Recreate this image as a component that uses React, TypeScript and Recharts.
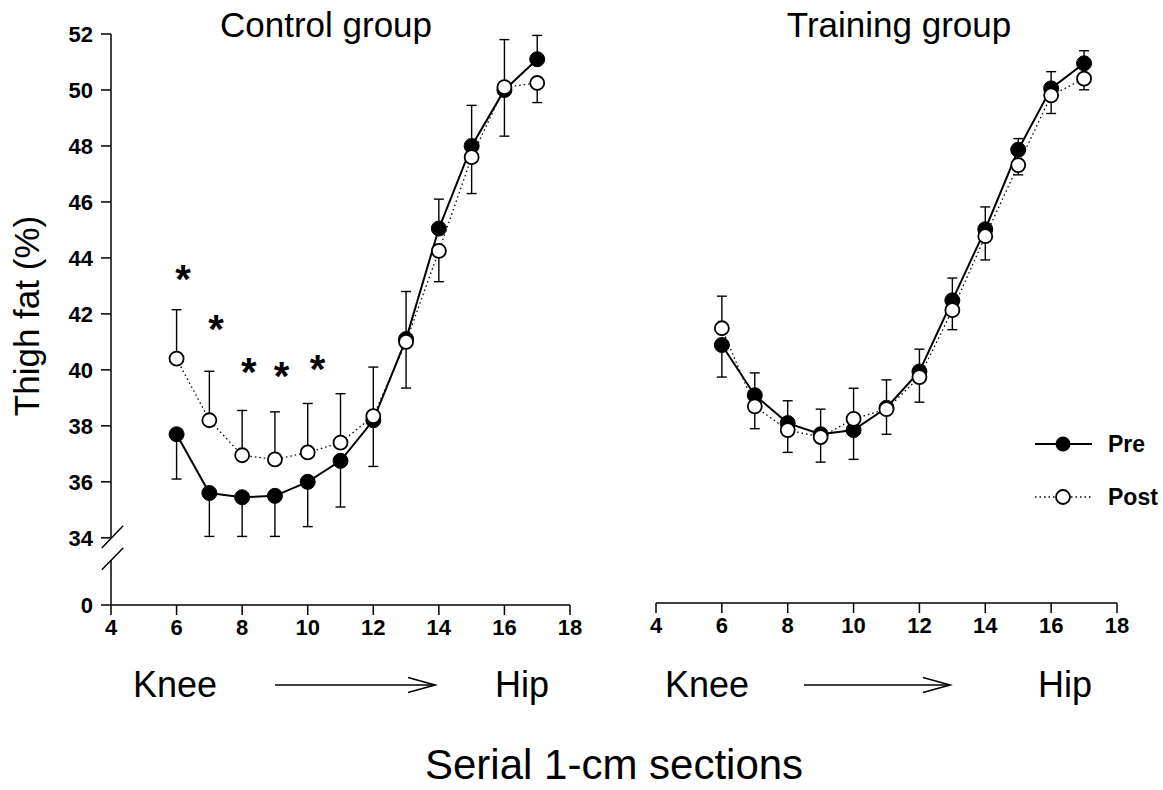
import React from "react";
import {
  ComposedChart,
  Line,
  ErrorBar,
  Scatter,
  XAxis,
  YAxis,
  ReferenceLine,
} from "recharts";

// section number (cm from knee)
const sections = [6, 7, 8, 9, 10, 11, 12, 13, 14, 15, 16, 17];

// control group, % fat; *End = where the error bar stops
const controlPre = [37.7, 35.6, 35.45, 35.5, 36.0, 36.75, 38.2, 41.1, 45.05, 48.0, 50.0, 51.1];
const controlPreEnd = [36.1, 34.05, 34.05, 34.05, 34.4, 35.1, 36.55, 42.8, 46.1, 49.45, 51.8, 51.95];
const controlPost = [40.4, 38.2, 36.95, 36.8, 37.05, 37.4, 38.35, 41.0, 44.25, 47.6, 50.1, 50.25];
const controlPostEnd = [42.15, 39.95, 38.55, 38.5, 38.8, 39.15, 40.1, 39.35, 43.15, 46.3, 48.35, 49.55];

// training group
const trainingPre = [40.85, 39.05, 38.05, 37.65, 37.8, 38.6, 39.9, 42.45, 45.0, 47.85, 50.05, 50.95];
const trainingPreEnd = [39.7, 39.85, 38.85, 38.55, 36.75, 39.6, 40.7, 43.25, 45.8, 48.25, 50.65, 51.4];
const trainingPost = [41.45, 38.65, 37.8, 37.55, 38.2, 38.55, 39.7, 42.1, 44.75, 47.3, 49.8, 50.4];
const trainingPostEnd = [42.6, 37.85, 37.0, 36.65, 39.3, 37.65, 38.8, 41.4, 43.9, 46.95, 49.15, 50.0];

// significance markers (control group)
const starX = [6.2, 7.2, 8.2, 9.2, 10.3];
const starY = [43.55, 41.75, 40.2, 40.05, 40.3];

const xTicks = [4, 6, 8, 10, 12, 14, 16, 18];
const yTicks = [31.6, 34, 36, 38, 40, 42, 44, 46, 48, 50, 52];
// the "0" tick sits below the axis break
const ZERO = 31.6;

const FONT = "'Liberation Sans', Arial, sans-serif";

const span = (v: number, end: number) => (end < v ? [v - end, 0] : [0, end - v]);

const buildRows = (pre: number[], preEnd: number[], post: number[], postEnd: number[]) =>
  sections.map((x, i) => ({
    x,
    pre: pre[i],
    preErr: span(pre[i], preEnd[i]),
    post: post[i],
    postErr: span(post[i], postEnd[i]),
  }));

const controlRows = buildRows(controlPre, controlPreEnd, controlPost, controlPostEnd);
const trainingRows = buildRows(trainingPre, trainingPreEnd, trainingPost, trainingPostEnd);
const stars = starX.map((x, i) => ({ x, y: starY[i] }));

function XTick({ x, y, payload }: any) {
  return (
    <text x={x} y={y} dy="0.72em" textAnchor="middle" fontSize={22} fontWeight={700} fontFamily={FONT} fill="#000">
      {payload.value}
    </text>
  );
}

function YTick({ x, y, payload }: any) {
  const v = payload.value < 33 ? "0" : String(payload.value);
  return (
    <text x={x} y={y} dy="0.36em" textAnchor="end" fontSize={22} fontWeight={700} fontFamily={FONT} fill="#000">
      {v}
    </text>
  );
}

function Star({ cx, cy }: any) {
  return (
    <text x={cx} y={cy + 22} textAnchor="middle" fontSize={40} fontWeight={700} fontFamily={FONT} fill="#000">
      *
    </text>
  );
}

function series() {
  return [
    <Line
      key="pre"
      dataKey="pre"
      stroke="#000"
      strokeWidth={2}
      dot={{ r: 7.5, fill: "#000", stroke: "#000", strokeWidth: 1 }}
      isAnimationActive={false}
    >
      <ErrorBar dataKey="preErr" direction="y" width={5} stroke="#000" strokeWidth={1.4} />
    </Line>,
    <Line
      key="post"
      dataKey="post"
      stroke="#000"
      strokeWidth={1.3}
      strokeDasharray="1.5 3"
      dot={{ r: 7, fill: "#fff", stroke: "#000", strokeWidth: 1.8, strokeDasharray: "0" }}
      isAnimationActive={false}
    >
      <ErrorBar dataKey="postErr" direction="y" width={5} stroke="#000" strokeWidth={1.4} />
    </Line>,
  ];
}

function xAxis() {
  return (
    <XAxis
      dataKey="x"
      type="number"
      domain={[4, 18]}
      ticks={xTicks}
      axisLine={{ stroke: "#000", strokeWidth: 1.5 }}
      tickLine={{ stroke: "#000", strokeWidth: 1.5 }}
      tickSize={10}
      tickMargin={4}
      tick={<XTick />}
      height={40}
    />
  );
}

function Arrow({ x1, x2, y }: { x1: number; x2: number; y: number }) {
  return (
    <g stroke="#000" strokeWidth={1.6} fill="none">
      <line x1={x1} y1={y} x2={x2} y2={y} />
      <polyline points={`${x2 - 27},${y - 7.5} ${x2},${y} ${x2 - 27},${y + 7.5}`} />
    </g>
  );
}

export default function App() {
  return (
    <div style={{ position: "absolute", left: 0, top: 0, width: 1163, height: 790, background: "#fff" }}>
      <div style={{ position: "absolute", left: 0, top: 0 }}>
        <ComposedChart
          width={600}
          height={680}
          data={controlRows}
          margin={{ top: 34, right: 30, bottom: 35, left: 41 }}
        >
          {xAxis()}
          <YAxis
            type="number"
            domain={[ZERO, 52]}
            ticks={yTicks}
            allowDataOverflow
            axisLine={false}
            tickLine={{ stroke: "#000", strokeWidth: 1.5 }}
            tickSize={10}
            tickMargin={8}
            tick={<YTick />}
            width={70}
          />
          <ReferenceLine segment={[{ x: 4, y: ZERO }, { x: 4, y: 33.2 }]} stroke="#000" strokeWidth={1.5} ifOverflow="visible" />
          <ReferenceLine segment={[{ x: 4, y: 34.0 }, { x: 4, y: 52 }]} stroke="#000" strokeWidth={1.5} ifOverflow="visible" />
          <ReferenceLine segment={[{ x: 3.72, y: 33.64 }, { x: 4.37, y: 34.43 }]} stroke="#000" strokeWidth={1.5} ifOverflow="visible" />
          <ReferenceLine segment={[{ x: 3.72, y: 32.86 }, { x: 4.37, y: 33.64 }]} stroke="#000" strokeWidth={1.5} ifOverflow="visible" />
          {series()}
          <Scatter data={stars} dataKey="y" shape={<Star />} isAnimationActive={false} />
        </ComposedChart>
      </div>
      <div style={{ position: "absolute", left: 600, top: 0 }}>
        <ComposedChart
          width={563}
          height={680}
          data={trainingRows}
          margin={{ top: 34, right: 46, bottom: 37, left: 56 }}
        >
          {xAxis()}
          <YAxis type="number" domain={[ZERO, 52]} allowDataOverflow hide />
          {series()}
        </ComposedChart>
      </div>
      <svg
        width={1163}
        height={790}
        style={{ position: "absolute", left: 0, top: 0, pointerEvents: "none" }}
        fontFamily={FONT}
      >
        <text x={326} y={37} textAnchor="middle" fontSize={35}>Control group</text>
        <text x={899} y={37} textAnchor="middle" fontSize={35}>Training group</text>
        <text x={0} y={0} transform="translate(39,316) rotate(-90)" textAnchor="middle" fontSize={35}>
          Thigh fat (%)
        </text>

        <text x={133} y={697} fontSize={36}>Knee</text>
        <Arrow x1={275} x2={435} y={685} />
        <text x={495} y={697} fontSize={36}>Hip</text>
        <text x={665} y={697} fontSize={36}>Knee</text>
        <Arrow x1={804} x2={950} y={685} />
        <text x={1038} y={697} fontSize={36}>Hip</text>

        <text x={425} y={779} fontSize={42}>Serial 1-cm sections</text>

        <line x1={1035} y1={444} x2={1092} y2={444} stroke="#000" strokeWidth={2} />
        <circle cx={1063} cy={444} r={7.5} fill="#000" />
        <text x={1108} y={452} fontSize={23} fontWeight={700}>Pre</text>
        <line x1={1035} y1={497} x2={1092} y2={497} stroke="#000" strokeWidth={1.3} strokeDasharray="1.5 3" />
        <circle cx={1063} cy={497} r={7} fill="#fff" stroke="#000" strokeWidth={1.8} />
        <text x={1108} y={505} fontSize={23} fontWeight={700}>Post</text>
      </svg>
    </div>
  );
}
